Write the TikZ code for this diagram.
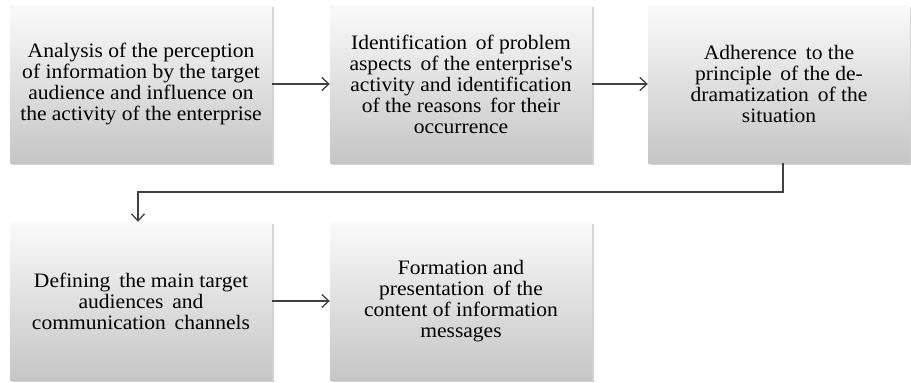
\documentclass[tikz,border=0pt]{standalone}
\usepackage{fontspec}
\setmainfont{Liberation Serif}[FakeStretch=1.05]
\usetikzlibrary{arrows.meta, shadows}
\tikzset{>={Straight Barb[width=13pt,length=7pt,line width=1.3pt]}}
\tikzset{
    stepbox/.style={top color=white!96!gray, bottom color=gray!45, draw=none,
        minimum width=262pt, minimum height=158pt, align=center,
        font=\fontsize{20.5}{21}\selectfont,
        drop shadow={shadow xshift=1.5pt, shadow yshift=-2pt, opacity=0.35}},
    link/.style={draw=black!75, line width=1.3pt}
}

\begin{document}
\begin{tikzpicture}[x=1pt, y=-1pt]
    \useasboundingbox (0,0) rectangle (911,383);

    \node[stepbox] (A) at (141,84) {Analysis of the perception\\of information by the target\\audience and influence on\\the activity of the enterprise};
    \node[stepbox] (B) at (461,84) {Identification\, of problem\\aspects\, of the enterprise\textquotesingle s\\activity and identification\\of the reasons\, for their\\occurrence};
    \node[stepbox] (C) at (779,84) {Adherence\, to the\\principle\, of the de-\\dramatization\, of the\\situation};

    \node[stepbox] (D) at (141,301) {Defining\, the main target\\audiences\, and\\communication\, channels};
    \node[stepbox] (E) at (461,301) {Formation and\\presentation\, of the\\content of information\\messages};

    \coordinate (turn-c) at (783,192);
    \coordinate (turn-d) at (138,192);

    \draw[link, ->] (A) -- (B);
    \draw[link, ->] (B) -- (C);
    \draw[link, ->] (C.south -| turn-c) -- (turn-c) -- (turn-d) -- (D.north -| turn-d);
    \draw[link, ->] (D) -- (E);

\end{tikzpicture}
\end{document}
